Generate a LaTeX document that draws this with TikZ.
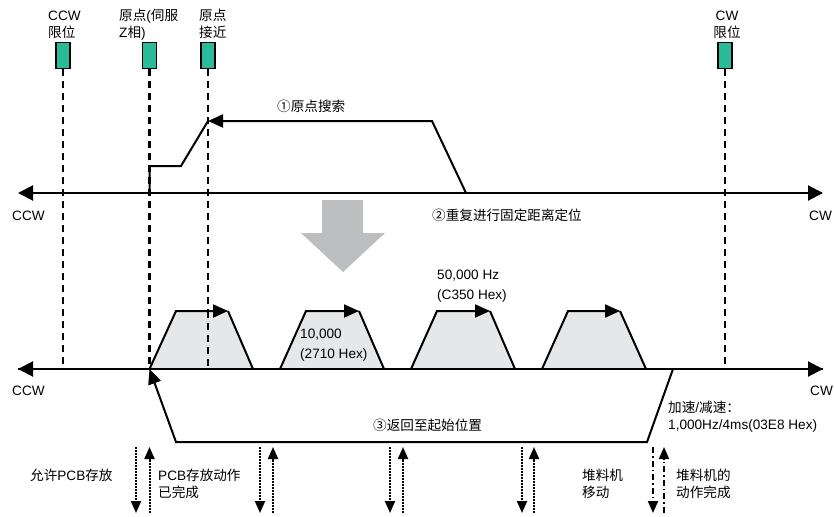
\documentclass[tikz,border=0pt]{standalone}
\usepackage{fontspec}
\setmainfont{Liberation Sans}
\newfontfamily\cjk{Noto Sans CJK SC}
\usetikzlibrary{arrows.meta}
\definecolor{sensorgreen}{RGB}{43,187,152}
\definecolor{trapgray}{RGB}{230,231,232}
\definecolor{biggray}{RGB}{188,190,192}
\begin{document}
\begin{tikzpicture}[x=1pt,y=-1pt,
  lbl/.style={font=\fontsize{13.6}{16}\selectfont, inner sep=0pt, anchor=base west},
  lblc/.style={lbl, anchor=base},
  axisline/.style={line width=2pt, {Triangle[length=15pt,width=15pt]}-{Triangle[length=15pt,width=15pt]}},
  motion/.style={line width=2pt, line join=miter},
  motiontip/.style={motion, -{Triangle[length=15pt,width=13pt]}},
  sensor/.style={draw=black, line width=1.8pt, fill=sensorgreen, minimum width=14pt, minimum height=26pt, inner sep=0pt},
  vdash/.style={line width=2.5pt, dash pattern=on 7pt off 5pt},
  sigdot/.style={line width=2pt, dash pattern=on 1.6pt off 1.4pt, -{Triangle[length=12pt,width=10pt]}},
  sigdashdot/.style={line width=2pt, dash pattern=on 6pt off 3pt on 1.6pt off 3pt, -{Triangle[length=12pt,width=10pt]}},
]
\useasboundingbox (0,0) rectangle (834,516);

% axes
\coordinate (tL) at (18,193); \coordinate (tR) at (823,193);
\coordinate (bL) at (18,369); \coordinate (bR) at (823,369);
\draw[axisline] (tL) -- (tR);
\draw[axisline] (bL) -- (bR);

% axis labels
\node[lbl] (ccw1) at (12,220) {CCW};
\node[lbl] (cw1) at (809,220) {CW};
\node[lbl] (ccw2) at (12,395) {CCW};
\node[lbl] (cw2) at (810,395) {CW};

% sensors
\node[sensor] (s1) at (63,55.5) {};
\node[sensor] (s2) at (149.5,55.5) {};
\node[sensor] (s3) at (208,55.5) {};
\node[sensor] (s4) at (725,55.5) {};
\foreach \s in {s1,s2,s3,s4} \draw[vdash] (\s.south) -- (\s.south |- bL);

% sensor labels
\node[lbl] (l1a) at (48,21) {CCW};
\node[lbl] (l1b) at (48,38) {\cjk 限位};
\node[lbl] (l2a) at (119,21) {{\cjk 原点}({\cjk 伺服}};
\node[lbl] (l2b) at (119,38) {Z{\cjk 相})};
\node[lbl] (l3a) at (199,21) {\cjk 原点};
\node[lbl] (l3b) at (199,38) {\cjk 接近};
\node[lblc] (l4a) at (727,21) {CW};
\node[lblc] (l4b) at (727,38) {\cjk 限位};

% origin search
\coordinate (o1) at (466,193); \coordinate (o2) at (432,121);
\coordinate (o3) at (208,121); \coordinate (o4) at (181,166);
\coordinate (o5) at (149.5,166); \coordinate (o6) at (149.5,193);
\draw[motiontip] (o1) -- (o2) -- (o3);
\draw[motion] (o3) -- (o4) -- (o5) -- (o6);
\node[lbl] (t1) at (277,111) {\cjk ①原点搜索};

\node[lbl] (t2) at (432,220) {\cjk ②重复进行固定距离定位};

% big gray arrow
\fill[biggray] (322,200) -- (363,200) -- (363,233) -- (385,233) -- (343,272) -- (301,233) -- (322,233) -- cycle;

% trapezoids
\foreach \a/\b/\c/\d in {149.5/176/228/253, 280/306/359/384, 411/437/490/515, 542/568/620/646}{
  \fill[trapgray] (\a,369) -- (\b,311) -- (\c,311) -- (\d,369) -- cycle;
  \draw[motiontip] (\a,369) -- (\b,311) -- (\c,311);
  \draw[motion] (\c,311) -- (\d,369);
}
\draw[vdash] (s3.south |- 0,311) -- (s3.south |- bL);
\draw[line width=2pt] (bL) -- (bR);

\node[lbl] (f1a) at (300,338) {10,000};
\node[lbl] (f1b) at (300,358) {(2710 Hex)};
\node[lbl] (f2a) at (437,279) {50,000 Hz};
\node[lbl] (f2b) at (437,299) {(C350 Hex)};

% return path
\coordinate (r1) at (673,369); \coordinate (r2) at (647,442);
\coordinate (r3) at (176,442); \coordinate (r4) at (149.5,369);
\draw[motiontip] (r1) -- (r2) -- (r3) -- (r4);
\node[lbl] (t3) at (373,430) {\cjk ③返回至起始位置};
\node[lbl] (acc1) at (668,412) {{\cjk 加速}/{\cjk 减速：}};
\node[lbl] (acc2) at (668,429) {1,000Hz/4ms(03E8 Hex)};

% signals
\foreach \x/\y in {136/149.5, 260/273, 390/403, 522/534}{
  \draw[sigdot] (\x,447) -- (\x,513);
  \draw[sigdot] (\y,513) -- (\y,447);
}
\draw[sigdashdot] (653,447) -- (653,513);
\draw[sigdashdot] (664,513) -- (664,447);

\node[lbl] (b1) at (30,480) {{\cjk 允许}PCB{\cjk 存放}};
\node[lbl] (b2a) at (158,480) {PCB{\cjk 存放动作}};
\node[lbl] (b2b) at (158,497) {\cjk 已完成};
\node[lbl] (b3a) at (582,480) {\cjk 堆料机};
\node[lbl] (b3b) at (582,497) {\cjk 移动};
\node[lbl] (b4a) at (676,480) {\cjk 堆料机的};
\node[lbl] (b4b) at (676,497) {\cjk 动作完成};
\end{tikzpicture}
\end{document}
